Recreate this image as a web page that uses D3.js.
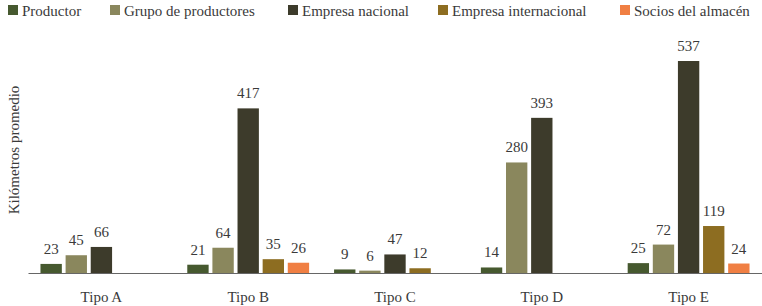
<!DOCTYPE html>
<html>
<head>
<meta charset="utf-8">
<script src="https://cdn.jsdelivr.net/npm/d3@7/dist/d3.min.js"></script>
<style>
  html, body { margin: 0; padding: 0; background: #fff; }
</style>
</head>
<body>
<svg id="chart" width="762" height="306"></svg>
<script>
const categories = ["Tipo A", "Tipo B", "Tipo C", "Tipo D", "Tipo E"];
const seriesNames = ["Productor", "Grupo de productores", "Empresa nacional", "Empresa internacional", "Socios del almacén"];
const productor = [23, 21, 9, 14, 25];
const grupoProductores = [45, 64, 6, 280, 72];
const empresaNacional = [66, 417, 47, 393, 537];
const empresaInternacional = [null, 35, 12, null, 119];
const sociosAlmacen = [null, 26, null, null, 24];
const colors = ["#46592f", "#8a875d", "#3d3b2b", "#8d6d21", "#f07f43"];
const yAxisTitle = "Kilómetros promedio";

const seriesValues = [productor, grupoProductores, empresaNacional, empresaInternacional, sociosAlmacen];

const FONT = "'Liberation Serif', 'DejaVu Serif', serif";
const svg = d3.select("#chart").attr("font-family", FONT);
const textColor = "#3a3a3a";

const x0 = d3.scaleBand().domain(categories).range([28, 762]).paddingInner(0.17).paddingOuter(0.085);
const x1 = d3.scaleBand().domain(seriesNames).range([0, x0.bandwidth()]).paddingInner(0.15).paddingOuter(0);
const maxV = d3.max(seriesValues.flat());
const y = d3.scaleLinear().domain([0, maxV]).range([273, 61]);

// bars
const g = svg.append("g");
categories.forEach((cat, ci) => {
  seriesNames.forEach((s, si) => {
    const v = seriesValues[si][ci];
    if (v == null) return;
    const bx = x0(cat) + x1(s);
    g.append("rect")
      .attr("x", bx)
      .attr("y", y(v))
      .attr("width", x1.bandwidth())
      .attr("height", y(0) - y(v))
      .attr("fill", colors[si]);
    g.append("text")
      .attr("x", bx + x1.bandwidth() / 2)
      .attr("y", y(v) - 10)
      .attr("text-anchor", "middle")
      .attr("font-family", FONT)
      .attr("font-size", 15)
      .attr("fill", textColor)
      .text(v);
  });
});

// baseline axis
const xAxis = d3.axisBottom(x0).tickSize(0).tickPadding(18);
const axG = svg.append("g").attr("transform", `translate(0,${y(0)})`).call(xAxis);
axG.attr("font-family", FONT);
axG.select(".domain").attr("stroke", "#666").attr("stroke-width", 1.2);
axG.selectAll("text")
  .attr("font-family", FONT)
  .attr("font-size", 15)
  .attr("fill", textColor);

// y-axis title
svg.append("text")
  .attr("transform", "translate(19,150) rotate(-90)")
  .attr("text-anchor", "middle")
  .attr("font-family", FONT)
  .attr("font-size", 15)
  .attr("fill", textColor)
  .text(yAxisTitle);

// legend
const legendX = [8, 110, 288, 438, 620];
const legend = svg.append("g");
seriesNames.forEach((s, i) => {
  legend.append("rect")
    .attr("x", legendX[i]).attr("y", 5)
    .attr("width", 10).attr("height", 10)
    .attr("fill", colors[i]);
  legend.append("text")
    .attr("x", legendX[i] + 14).attr("y", 16)
    .attr("font-family", FONT)
    .attr("font-size", 15)
    .attr("fill", textColor)
    .text(s);
});
</script>
</body>
</html>
